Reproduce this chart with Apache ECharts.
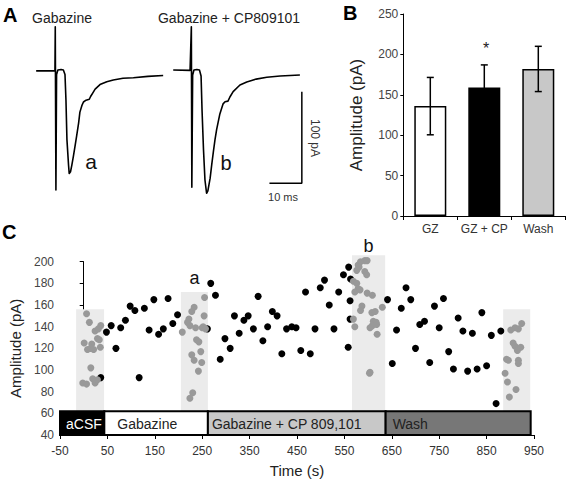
<!DOCTYPE html>
<html><head><meta charset="utf-8">
<script src="https://cdn.jsdelivr.net/npm/echarts@6/dist/echarts.min.js"></script>
<style>html,body{margin:0;padding:0;background:#fff}#c{width:568px;height:484px}</style>
</head><body><div id="c"></div>
<script>
// ---------- Panel A: current traces (ms, pA) ----------
const traceTime1 = [1.9, 7.7, 7.8, 8.0, 8.2, 8.6, 9.6, 10.3, 10.8, 11.1, 11.4, 11.9, 12.1, 12.5, 12.9, 13.4, 13.9, 14.4, 15.0, 15.4, 16.0, 16.5, 17.3, 18.3, 18.7, 19.4, 20.1, 21.6, 23.7, 25.7, 28.7, 31.9, 36.4, 41.1];
const traceAmp1  = [0, 0, 48, -130, -4, 1, 1.5, 1, -4, -32, -75, -103, -112, -110, -103, -93, -82, -71, -57, -45, -38, -34, -32, -31, -28, -24, -20, -15, -12, -10, -8, -7.5, -6, -5];
const traceTime2 = [44.2, 49.4, 49.8, 49.95, 50.2, 50.6, 51.5, 52.3, 52.8, 53.1, 53.55, 54.0, 54.5, 54.9, 55.6, 56.1, 56.6, 57.1, 57.6, 58.6, 59.6, 60.2, 61.1, 61.7, 62.7, 64.8, 66.9, 68.9, 69.8, 73.1, 77.2, 83.3];
const traceAmp2  = [1, 0.5, 48, -127, -4.5, 1, 1.5, 1, -5.6, -43, -86, -119, -133.5, -131, -117, -102, -88, -75, -64, -47, -36, -33.6, -33, -28.5, -22.7, -15.4, -12.2, -10, -9, -7, -5.6, -4.5];
const scaleBarTime = [73.9, 83.9, 83.9];
const scaleBarAmp  = [-122.7, -122.7, -22.7];

// ---------- Panel B: mean amplitude ----------
const barCategories = ['GZ', 'GZ + CP', 'Wash'];
const barMeans  = [136, 159, 182];
const barErrors = [35.5, 28, 28];

// ---------- Panel C: amplitude vs time ----------
const blackPoints = [[36,93],[48,135],[58,141],[68,120],[78,139],[88,146],[98,159],[108,155],[117,93],[128,157],[138,137],[148,165],[158,133],[168,138],[178,166],[188,143],[198,151],[261,138],[268,180],[278,169],[288,110],[298,129],[309,120],[318,150],[328,134],[338,146],[347,150],[358,138],[368,168],[378,127],[388,140],[398,154],[408,150],[418,115],[428,138],[439,140],[448,139],[458,118],[468,172],[478,115],[488,138],[499,176],[508,183],[518,160],[528,138],[538,172],[548,188],[559,195],[563,184],[562,164],[562,147],[558,121],[641,165],[651,106],[660,137],[670,157],[680,176],[690,165],[700,120],[709,142],[719,145],[730,107],[740,159],[750,139],[759,166],[770,117],[780,101],[790,148],[800,136],[810,99],[820,134],[830,101],[840,153],[850,104],[860,132],[870,69],[880,136]];
const greyPointsACSF = [[6,152],[12,144],[36,141],[24,136],[31,138],[1,125],[17,124],[8,119],[15,120],[21,119],[29,129],[33,128],[35,121],[15,102],[-2,88],[6,87],[19,92],[24,88],[29,91]];
const greyPointsGZ = [[208,135],[219,144],[222,147],[224,141],[228,154],[233,158],[255,167],[254,150],[236,139],[250,139],[252,140],[257,138],[238,128],[243,126],[247,117],[228,114],[233,109],[249,107],[242,99],[230,79],[224,74]];
const greyPointsCP = [[579,197],[584,200],[593,201],[598,201],[576,192],[581,195],[593,191],[597,188],[569,182],[576,180],[579,175],[572,172],[583,174],[598,171],[609,169],[587,159],[584,155],[630,158],[608,153],[615,154],[569,147],[572,140],[611,145],[617,144],[609,141],[618,142],[604,139],[619,133],[603,97],[604,98]];
const greyPointsWash = [[924,143],[917,138],[910,139],[901,137],[906,125],[910,122],[915,118],[922,121],[892,110],[896,109],[917,109],[917,106],[889,97],[894,89],[912,82],[898,75]];
const shadeStart  = [-16, 205, 566, 885];
const shadeEnd    = [43, 262, 636, 942];
const shadeTop    = [156, 172, 206, 156];
const shadeLabels = ['', 'a', 'b', ''];
const shadeBottom = 62;
const segStart = [-50, 43.5, 262, 637];
const segEnd   = [43.5, 262, 637, 943];
const segNames = ['aCSF', 'Gabazine', 'Gabazine + CP 809,101', 'Wash'];
const segTop = 62;
const segBottom = 40;

// ---------- styles ----------
const F = '"Liberation Sans", Arial, sans-serif';
const segFill = ['#000000', '#ffffff', '#c8c8c8', '#777777'];
const segTextColor = ['#ffffff', '#222222', '#222222', '#222222'];
const segPad = [6, 13, 4, 7];
const shadeLabelGap = [0, 5, 0, 0];
const barFill = ['#ffffff', '#000000', '#c8c8c8'];

const zip = (a, b) => a.map((v, i) => [v, b[i]]);

const chart = echarts.init(document.getElementById('c'), null, {renderer: 'svg'});

const option = {
  animation: false,
  backgroundColor: '#fff',
  textStyle: {fontFamily: F},
  grid: [
    {left: 30, top: 25, width: 291.6, height: 183.4},
    {left: 403.3, top: 14, width: 162, height: 202},
    {left: 60, top: 261.7, width: 474, height: 173.3}
  ],
  xAxis: [
    {gridIndex: 0, type: 'value', min: 0, max: 90, show: false},
    {gridIndex: 1, type: 'category', data: barCategories,
      axisLine: {lineStyle: {color: '#000', width: 1}},
      axisTick: {show: true, length: 4, lineStyle: {color: '#000'}},
      axisLabel: {interval: 0, fontSize: 12, color: '#333', margin: 7, fontFamily: F}},
    {gridIndex: 2, type: 'value', min: -50, max: 950, interval: 100,
      name: 'Time (s)', nameLocation: 'middle', nameGap: 28,
      nameTextStyle: {fontSize: 15, color: '#222', fontFamily: F},
      splitLine: {show: false},
      axisLine: {lineStyle: {color: '#000', width: 1}},
      axisTick: {length: 4, lineStyle: {color: '#000'}},
      axisLabel: {fontSize: 12, color: '#333', margin: 10, fontFamily: F}}
  ],
  yAxis: [
    {gridIndex: 0, type: 'value', min: -150, max: 50, show: false},
    {gridIndex: 1, type: 'value', min: 0, max: 250, interval: 50,
      name: 'Amplitude (pA)', nameLocation: 'middle', nameGap: 38,
      nameTextStyle: {fontSize: 17, color: '#222', fontFamily: F},
      splitLine: {show: false},
      axisLine: {show: true, lineStyle: {color: '#000', width: 1}},
      axisTick: {show: true, length: 3, lineStyle: {color: '#000'}},
      axisLabel: {fontSize: 12, color: '#444', margin: 5, fontFamily: F}},
    {gridIndex: 2, type: 'value', min: 40, max: 200, interval: 20,
      name: 'Amplitude (pA)', nameLocation: 'middle', nameGap: 31,
      nameTextStyle: {fontSize: 15, color: '#222', fontFamily: F},
      splitLine: {show: false},
      axisLine: {show: true, lineStyle: {color: '#000', width: 1}},
      axisTick: {show: true, length: 4, lineStyle: {color: '#000'}},
      axisLabel: {fontSize: 12, color: '#444', margin: 6, fontFamily: F}}
  ],
  graphic: [
    {type: 'text', x: 3, y: 15, style: {text: 'A', fontSize: 20, fontWeight: 'bold', fontFamily: F, fill: '#000', verticalAlign: 'middle'}},
    {type: 'text', x: 343, y: 13, style: {text: 'B', fontSize: 20, fontWeight: 'bold', fontFamily: F, fill: '#000', verticalAlign: 'middle'}},
    {type: 'text', x: 2, y: 232, style: {text: 'C', fontSize: 20, fontWeight: 'bold', fontFamily: F, fill: '#000', verticalAlign: 'middle'}},
    {type: 'text', x: 62, y: 18, style: {text: 'Gabazine', fontSize: 14, fontFamily: F, fill: '#222', align: 'center', verticalAlign: 'middle'}},
    {type: 'text', x: 229, y: 18, style: {text: 'Gabazine + CP809101', fontSize: 14, fontFamily: F, fill: '#222', align: 'center', verticalAlign: 'middle'}},
    {type: 'text', x: 91, y: 161, style: {text: 'a', fontSize: 21, fontFamily: F, fill: '#111', align: 'center', verticalAlign: 'middle'}},
    {type: 'text', x: 226, y: 163, style: {text: 'b', fontSize: 20, fontFamily: F, fill: '#111', align: 'center', verticalAlign: 'middle'}},
    {type: 'text', x: 315, y: 138, rotation: -Math.PI / 2, style: {text: '100 pA', fontSize: 12, fontFamily: F, fill: '#333', align: 'center', verticalAlign: 'middle'}},
    {type: 'text', x: 283, y: 197, style: {text: '10 ms', fontSize: 11, fontFamily: F, fill: '#333', align: 'center', verticalAlign: 'middle'}},
    {type: 'text', x: 486, y: 48, style: {text: '*', fontSize: 16, fontFamily: F, fill: '#222', align: 'center', verticalAlign: 'middle'}}
  ],
  series: [
    {type: 'line', xAxisIndex: 0, yAxisIndex: 0, data: zip(traceTime1, traceAmp1), symbol: 'none',
      lineStyle: {color: '#000', width: 1.6, join: 'round'}},
    {type: 'line', xAxisIndex: 0, yAxisIndex: 0, data: zip(traceTime2, traceAmp2), symbol: 'none',
      lineStyle: {color: '#000', width: 1.6, join: 'round'}},
    {type: 'line', xAxisIndex: 0, yAxisIndex: 0, data: zip(scaleBarTime, scaleBarAmp), symbol: 'none',
      lineStyle: {color: '#000', width: 1.5}},
    {type: 'bar', xAxisIndex: 1, yAxisIndex: 1, barWidth: 32,
      data: barMeans.map((m, i) => ({value: m, itemStyle: {color: barFill[i], borderColor: '#000', borderWidth: 1.5}}))},
    {type: 'custom', xAxisIndex: 1, yAxisIndex: 1, z: 5,
      data: barMeans.map((m, i) => [i, m, barErrors[i]]),
      renderItem: function (params, api) {
        const x = api.value(0), m = api.value(1), e = api.value(2);
        const top = api.coord([x, m + e]), bot = api.coord([x, m - e]);
        const c = 3.5, st = {stroke: '#000', lineWidth: 1.5};
        return {type: 'group', children: [
          {type: 'line', shape: {x1: top[0], y1: top[1], x2: bot[0], y2: bot[1]}, style: st},
          {type: 'line', shape: {x1: top[0] - c, y1: top[1], x2: top[0] + c, y2: top[1]}, style: st},
          {type: 'line', shape: {x1: bot[0] - c, y1: bot[1], x2: bot[0] + c, y2: bot[1]}, style: st}
        ]};
      }},
    {type: 'custom', xAxisIndex: 2, yAxisIndex: 2, z: 1, clip: false,
      data: shadeStart.map((s, i) => [s, shadeEnd[i], shadeTop[i]]),
      renderItem: function (params, api) {
        const i = params.dataIndex;
        const p1 = api.coord([api.value(0), api.value(2)]);
        const p2 = api.coord([api.value(1), shadeBottom]);
        return {type: 'group', children: [
          {type: 'rect', shape: {x: p1[0], y: p1[1], width: p2[0] - p1[0], height: p2[1] - p1[1]}, style: {fill: '#ebebeb'}},
          {type: 'text', x: (p1[0] + p2[0]) / 2, y: p1[1] - shadeLabelGap[i],
            style: {text: shadeLabels[i], fontSize: 18, fontFamily: F, fill: '#111', align: 'center', verticalAlign: 'bottom'}}
        ]};
      }},
    {type: 'scatter', xAxisIndex: 2, yAxisIndex: 2, z: 3, clip: false, symbolSize: 7,
      data: blackPoints, itemStyle: {color: '#000', opacity: 1}},
    {type: 'scatter', xAxisIndex: 2, yAxisIndex: 2, z: 4, clip: false, symbolSize: 7,
      data: greyPointsACSF.concat(greyPointsGZ, greyPointsCP, greyPointsWash), itemStyle: {color: '#999999', opacity: 1}},
    {type: 'custom', xAxisIndex: 2, yAxisIndex: 2, z: 6, clip: false,
      data: segStart.map((s, i) => [s, segEnd[i], segTop]),
      renderItem: function (params, api) {
        const i = params.dataIndex;
        const p1 = api.coord([api.value(0), api.value(2)]);
        const p2 = api.coord([api.value(1), segBottom]);
        return {type: 'group', children: [
          {type: 'rect', shape: {x: p1[0], y: p1[1], width: p2[0] - p1[0], height: p2[1] - p1[1]},
            style: {fill: segFill[i], stroke: '#000', lineWidth: 2}},
          {type: 'text', x: p1[0] + segPad[i], y: (p1[1] + p2[1]) / 2 + 1,
            style: {text: segNames[i], fontSize: 14, fontFamily: F, fill: segTextColor[i], align: 'left', verticalAlign: 'middle'}}
        ]};
      }}
  ]
};
chart.setOption(option);
</script>
</body></html>
